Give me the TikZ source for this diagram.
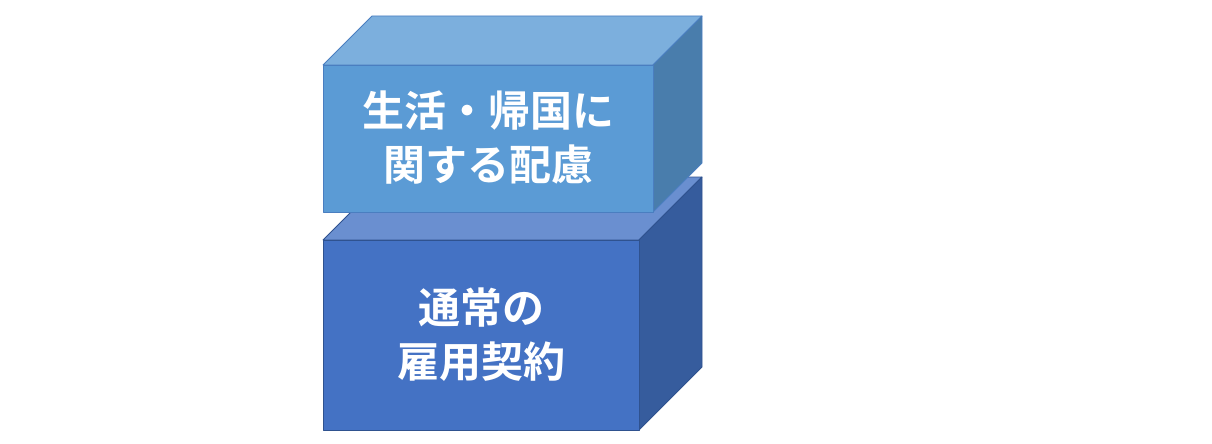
\documentclass[tikz,border=0pt]{standalone}
\usepackage{fontspec}
\newfontfamily\cjk{Noto Sans CJK JP}[BoldFont={Noto Sans CJK JP Bold}]
\definecolor{upfront}{HTML}{5B9BD5}
\definecolor{uptop}{HTML}{7CAFDD}
\definecolor{upside}{HTML}{497DAC}
\definecolor{upline}{HTML}{4A7EC0}
\definecolor{lowfront}{HTML}{4472C4}
\definecolor{lowtop}{HTML}{6A8FD0}
\definecolor{lowside}{HTML}{365C9D}
\definecolor{lowline}{HTML}{2F528F}
\tikzset{
  face/.style={line width=0.8pt, line join=round},
  boxtext/.style={text=white, align=center, font=\cjk\bfseries\fontsize{42pt}{54pt}\selectfont}
}
\begin{document}
\begin{tikzpicture}[x=1pt,y=-1pt]
	\useasboundingbox (0,0) rectangle (1212,444);
	% lower box
	\draw[face, draw=lowline, fill=lowtop] (323,240)--(386,177)--(702,177)--(639,240)--cycle;
	\draw[face, draw=lowline, fill=lowside] (639,240)--(702,177)--(702,367)--(639,430)--cycle;
	\draw[face, draw=lowline, fill=lowfront] (323,240) rectangle (639,430);
	\node[boxtext] (contract) at (481,335) {通常の\\雇用契約};
	% upper box
	\draw[face, draw=upline, fill=uptop] (323,65)--(372,16)--(702,16)--(653,65)--cycle;
	\draw[face, draw=upline, fill=upside] (653,65)--(702,16)--(702,163)--(653,212)--cycle;
	\draw[face, draw=upline, fill=upfront] (323,65) rectangle (653,212);
	\node[boxtext] (care) at (488,138) {生活・帰国に\\関する配慮};
\end{tikzpicture}
\end{document}
